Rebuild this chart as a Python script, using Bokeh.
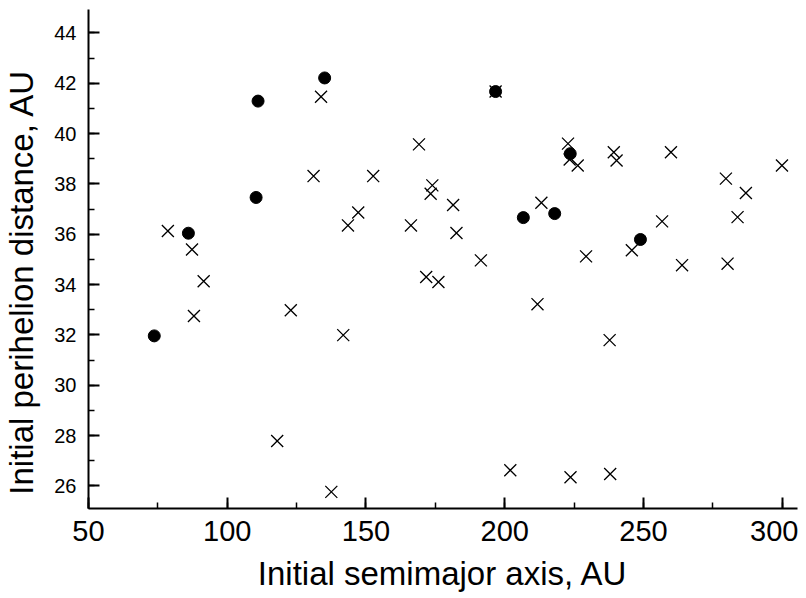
from bokeh.plotting import figure
from bokeh.models import Range1d, SingleIntervalTicker
from bokeh.embed import file_html
from bokeh.resources import INLINE

# Initial semimajor axis (AU) and perihelion distance (AU)
circle_a = [73.7, 86.0, 111.1, 110.4, 135.1, 196.7, 206.7, 218.0, 223.6, 248.9]
circle_q = [31.96, 36.04, 41.29, 37.46, 42.21, 41.67, 36.66, 36.82, 39.20, 35.79]

cross_a = [78.6, 87.3, 91.5, 88.0, 122.9, 118.0, 133.8, 169.1, 131.1, 152.6,
           173.9, 173.3, 181.4, 147.2, 143.5, 166.2, 182.6, 191.4, 171.7, 176.1,
           213.2, 196.7, 222.8, 223.4, 226.3, 239.3, 240.3, 259.9, 299.9, 279.7,
           286.9, 283.9, 256.7, 245.8, 229.3, 263.9, 280.3, 141.8, 211.8, 137.5,
           202.0, 237.8, 223.7, 238.0]
cross_q = [36.13, 35.39, 34.13, 32.75, 32.98, 27.78, 41.46, 39.57, 38.31, 38.31,
           37.94, 37.61, 37.16, 36.86, 36.35, 36.35, 36.05, 34.96, 34.30, 34.10,
           37.25, 41.67, 39.60, 38.97, 38.73, 39.26, 38.93, 39.26, 38.73, 38.21,
           37.64, 36.68, 36.51, 35.36, 35.12, 34.77, 34.83, 31.99, 33.22, 25.76,
           26.62, 31.79, 26.34, 26.47]

x_label = "Initial semimajor axis, AU"
y_label = "Initial perihelion distance, AU"

FONT = "Liberation Sans"

p = figure(width=798, height=598, output_backend="svg", toolbar_location=None,
           x_range=Range1d(50, 305.5), y_range=Range1d(25.1, 44.93),
           min_border_left=86, min_border_right=1, min_border_top=9,
           min_border_bottom=90, outline_line_color=None)
p.grid.visible = False

p.scatter(x=cross_a, y=cross_q, marker="x", size=17, line_color="black",
          line_width=1.3)
p.scatter(x=circle_a, y=circle_q, marker="circle", size=12, fill_color="black",
          line_color="black")

p.xaxis.ticker = SingleIntervalTicker(interval=50, num_minor_ticks=2)
p.yaxis.ticker = SingleIntervalTicker(interval=2, num_minor_ticks=2)

for ax in (p.xaxis[0], p.yaxis[0]):
    ax.axis_line_width = 2
    ax.axis_line_color = "black"
    ax.major_tick_in = 11
    ax.major_tick_out = 0
    ax.minor_tick_in = 6
    ax.minor_tick_out = 0
    ax.major_tick_line_width = 2
    ax.minor_tick_line_width = 1.5
    ax.major_tick_line_color = "black"
    ax.minor_tick_line_color = "black"
    ax.major_label_text_font = FONT
    ax.axis_label_text_font = FONT
    ax.axis_label_text_font_style = "normal"
    ax.major_label_text_color = "black"
    ax.axis_label_text_color = "black"
    ax.axis_label_text_font_size = "33px"

p.xaxis.axis_label = x_label
# trailing no-break spaces shift the centred title slightly downwards, as in the reference
p.yaxis.axis_label = y_label + "\u00a0" * 5
p.xaxis.major_label_text_font_size = "29px"
p.yaxis.major_label_text_font_size = "20px"
p.xaxis.major_label_standoff = 12
p.yaxis.major_label_standoff = 12
p.xaxis.axis_label_standoff = 11
p.yaxis.axis_label_standoff = 11

open("out.html", "w").write(file_html(p, INLINE))
